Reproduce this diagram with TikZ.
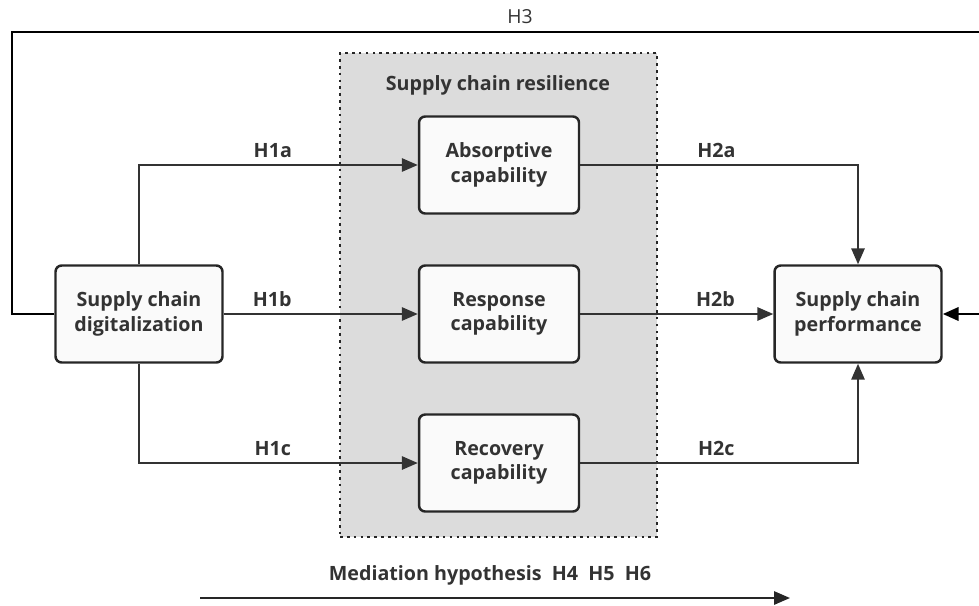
\documentclass[tikz,border=0pt]{standalone}
\usepackage{fontspec}
\setmainfont{Open Sans}
\usetikzlibrary{positioning,arrows.meta}
\definecolor{ink}{HTML}{333333}
\definecolor{grpfill}{HTML}{DCDCDC}
\definecolor{boxfill}{HTML}{FAFAFA}
\tikzset{
  >={Triangle[length=9pt,width=7.5pt]},
  block/.style={draw=black!85, line width=1.4pt, rounded corners=3.5pt, fill=boxfill,
                minimum width=3.2cm, minimum height=1.94cm, align=center,
                font=\bfseries\fontsize{11.2}{14}\selectfont, text=ink},
  grp/.style={draw=black!85, fill=grpfill, line width=1.5pt, dash pattern=on 1.5pt off 2.4pt,
              minimum width=6.34cm, minimum height=9.68cm},
  sig/.style={font=\bfseries\fontsize{11.2}{13}\selectfont, text=ink},
  l/.style={->, line width=1.1pt, draw=ink},
}
\begin{document}
\begin{tikzpicture}[x=0.02cm, y=-0.02cm]
  \useasboundingbox (0,0) rectangle (979,605);
  \node[grp] (scr) at (498.5,295) {};
  \node[sig] (scrt) at (498,85) {Supply chain resilience};
  \node[block, minimum width=3.34cm] (scd) at (139,314) {Supply chain\\digitalization};
  \node[block] (abs) at (499,165) {Absorptive\\capability};
  \node[block] (res) at (499,314) {Response\\capability};
  \node[block] (rec) at (499,463) {Recovery\\capability};
  \node[block, minimum width=3.34cm] (scp) at (858,314) {Supply chain\\performance};
  \draw[l] (scd.north) |- node[sig, pos=0.74, above=0pt] {H1a} (abs.west);
  \draw[l] (scd.east) -- node[sig, pos=0.25, above=0pt] {H1b} (res.west);
  \draw[l] (scd.south) |- node[sig, pos=0.74, above=0pt] {H1c} (rec.west);
  \draw[l] (abs.east) -| node[sig, pos=0.245, above=0pt] {H2a} (scp.north);
  \draw[l] (res.east) -- node[sig, pos=0.7, above=0pt] {H2b} (scp.west);
  \draw[l] (rec.east) -| node[sig, pos=0.245, above=0pt] {H2c} (scp.south);
  % direct effect, loops round the whole model
  \coordinate (tl) at (12,32);
  \coordinate (tr) at (1000,32);
  \draw[l, draw=black, line width=1.6pt] (scd.west) -| (tl) -- (tr) |- (scp.east);
  \node[font=\fontsize{11}{12}\selectfont, text=ink] (h3) at (520,17) {H3};
  % mediation
  \coordinate (ms) at (200,598);
  \coordinate (me) at (790,598);
  \draw[l, draw=black!85] (ms) -- (me);
  \node[sig] (med) at (490,575) {Mediation hypothesis\ \ H4\ \ H5\ \ H6};
\end{tikzpicture}
\end{document}
